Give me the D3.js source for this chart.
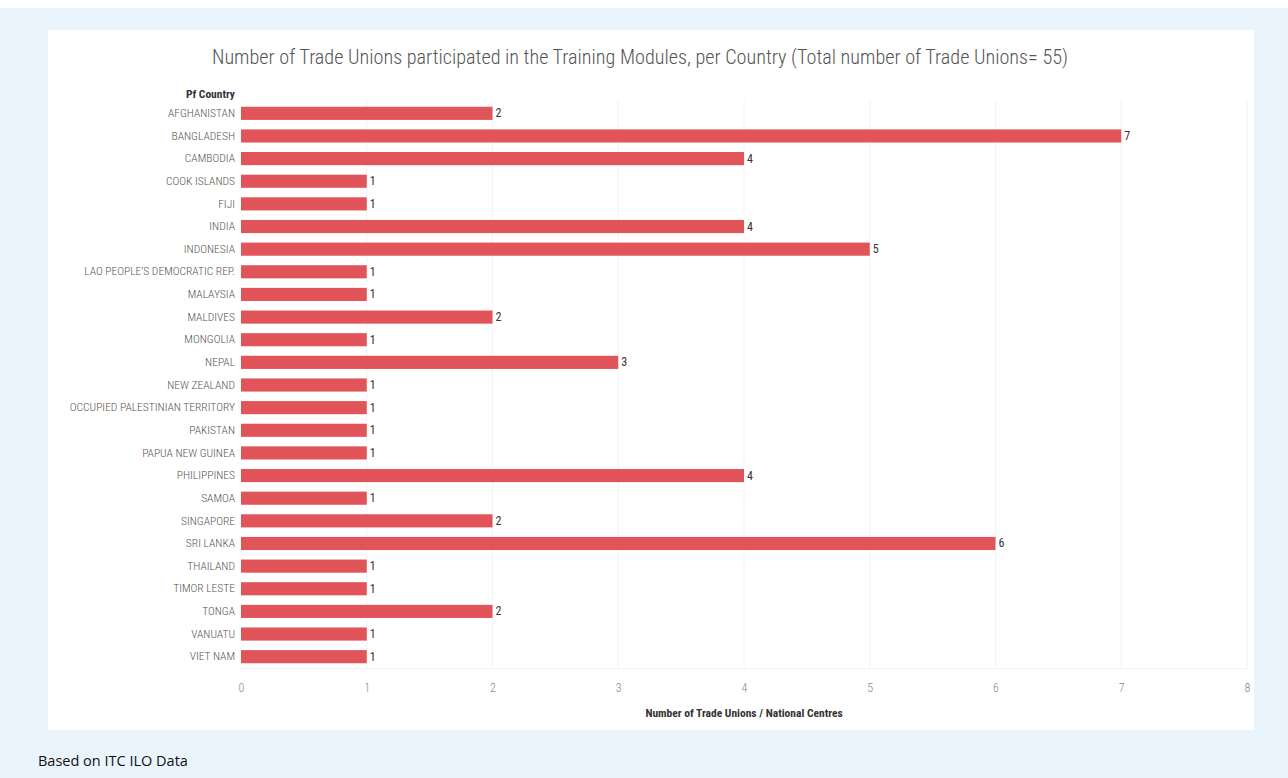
<!DOCTYPE html>
<html><head><meta charset="utf-8">
<script src="https://cdn.jsdelivr.net/npm/d3@7"></script>
<style>
html,body{margin:0;padding:0;background:#fff;}
svg{display:block;}
</style></head>
<body>
<svg id="chart" width="1288" height="778"></svg>
<script>
const title = "Number of Trade Unions participated in the Training Modules, per Country (Total number of Trade Unions= 55)";
const categories = ["AFGHANISTAN","BANGLADESH","CAMBODIA","COOK ISLANDS","FIJI","INDIA","INDONESIA","LAO PEOPLE\u2019S DEMOCRATIC REP.","MALAYSIA","MALDIVES","MONGOLIA","NEPAL","NEW ZEALAND","OCCUPIED PALESTINIAN TERRITORY","PAKISTAN","PAPUA NEW GUINEA","PHILIPPINES","SAMOA","SINGAPORE","SRI LANKA","THAILAND","TIMOR LESTE","TONGA","VANUATU","VIET NAM"];
const values = [2,7,4,1,1,4,5,1,1,2,1,3,1,1,1,1,4,1,2,6,1,1,2,1,1];
const xTicks = [0,1,2,3,4,5,6,7,8];
const xTitle = "Number of Trade Unions / National Centres";
const yTitle = "Pf Country";
const caption = "Based on ITC ILO Data";

const svg = d3.select("#chart");
const font = "'Liberation Sans Narrow','Roboto Condensed','Open Sans',sans-serif";

// background
svg.append("rect").attr("x",0).attr("y",8).attr("width",1288).attr("height",770).attr("fill","#eaf4fd");
svg.append("rect").attr("x",48).attr("y",30).attr("width",1206).attr("height",700).attr("fill","#ffffff");

const x = d3.scaleLinear().domain([0,8]).range([241,1247]);
const y = d3.scaleBand().domain(categories).range([102,668]).paddingInner(0.42).paddingOuter(0.21);

// grid
svg.append("g").selectAll("line").data(xTicks.slice(1)).join("line")
  .attr("x1",d=>x(d)).attr("x2",d=>x(d)).attr("y1",100).attr("y2",668)
  .attr("stroke","#f2f2f2").attr("stroke-width",1);
svg.append("line").attr("x1",241).attr("x2",1247).attr("y1",668.5).attr("y2",668.5).attr("stroke","#f2f2f2");

// title
svg.append("text").attr("x",640).attr("y",64).attr("text-anchor","middle")
  .attr("font-family",font).attr("font-size",20.2).attr("font-weight",300).attr("fill","#555").text(title);

// bars
svg.append("g").selectAll("rect").data(categories).join("rect")
  .attr("x",x(0)).attr("y",d=>y(d)).attr("height",y.bandwidth())
  .attr("width",(d,i)=>x(values[i])-x(0)).attr("fill","#e0545a");

// value labels
svg.append("g").selectAll("text").data(categories).join("text")
  .attr("x",(d,i)=>x(values[i])+3).attr("y",d=>y(d)+y.bandwidth()/2+4)
  .attr("font-family",font).attr("font-size",12).attr("fill","#333")
  .text((d,i)=>values[i]);

// y axis
const yAxis = d3.axisLeft(y).tickSize(0).tickPadding(6);
const gy = svg.append("g").attr("transform","translate(241,0)").call(yAxis);
gy.select(".domain").remove();
gy.selectAll("text").attr("font-family",font).attr("font-size",11.5).attr("font-weight",300).attr("fill","#555");

// x axis
const xAxis = d3.axisBottom(x).tickValues(xTicks).tickSize(0).tickPadding(8).tickFormat(d3.format("d"));
const gx = svg.append("g").attr("transform","translate(0,675)").call(xAxis);
gx.select(".domain").remove();
gx.selectAll("text").attr("font-family",font).attr("font-size",12).attr("font-weight",300).attr("fill","#888");

// axis titles
svg.append("text").attr("x",744).attr("y",717).attr("text-anchor","middle")
  .attr("font-family",font).attr("font-size",11.5).attr("font-weight","bold").attr("fill","#333").text(xTitle);
svg.append("text").attr("x",235).attr("y",98).attr("text-anchor","end")
  .attr("font-family",font).attr("font-size",11.5).attr("font-weight","bold").attr("fill","#333").text(yTitle);

// caption
svg.append("text").attr("x",38).attr("y",766)
  .attr("font-family","'Open Sans',sans-serif").attr("font-size",14.5).attr("fill","#111").text(caption);
</script>
</body></html>
